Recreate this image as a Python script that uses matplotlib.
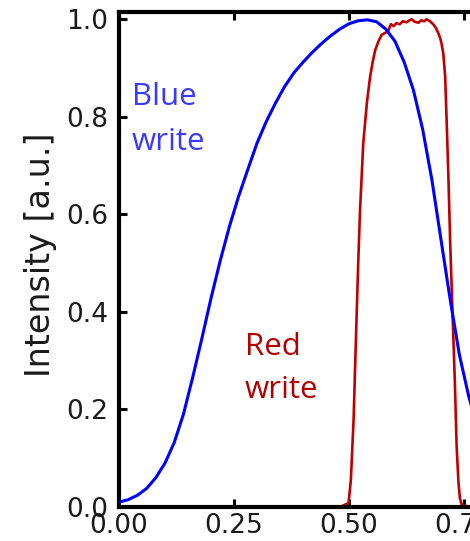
import matplotlib
matplotlib.use("Agg")
import matplotlib.pyplot as plt

# ---- data ----
blue_x = [0.00, 0.02, 0.04, 0.06, 0.08, 0.10, 0.12, 0.14, 0.16, 0.18,
          0.20, 0.22, 0.24, 0.26, 0.28, 0.30, 0.32, 0.34, 0.36, 0.38,
          0.40, 0.42, 0.44, 0.46, 0.48, 0.50, 0.52, 0.54, 0.56, 0.58,
          0.60, 0.62, 0.64, 0.66, 0.68, 0.70, 0.72, 0.74, 0.76, 0.78,
          0.80]
blue_y = [0.010, 0.015, 0.024, 0.038, 0.060, 0.090, 0.132, 0.190, 0.265, 0.345,
          0.428, 0.505, 0.575, 0.637, 0.692, 0.746, 0.790, 0.828, 0.862, 0.890,
          0.912, 0.932, 0.950, 0.966, 0.980, 0.991, 0.997, 0.999, 0.995, 0.980,
          0.955, 0.912, 0.855, 0.775, 0.672, 0.548, 0.425, 0.312, 0.228, 0.160,
          0.110]

red_x = [0.000, 0.100, 0.200, 0.300, 0.400, 0.480, 0.499, 0.504, 0.510, 0.515,
         0.520, 0.524, 0.531, 0.539, 0.546, 0.552, 0.557, 0.564, 0.571, 0.578,
         0.585, 0.591, 0.597, 0.603, 0.610, 0.617, 0.625, 0.630, 0.636, 0.643,
         0.651, 0.657, 0.663, 0.669, 0.676, 0.683, 0.689, 0.694, 0.698, 0.701,
         0.705, 0.709, 0.712, 0.716, 0.720, 0.727, 0.730, 0.734, 0.738, 0.741,
         0.745, 0.760, 0.800, 0.900, 1.000]
red_y = [0.000, 0.000, 0.000, 0.000, 0.000, 0.000, 0.008, 0.055, 0.180, 0.343,
         0.500, 0.609, 0.746, 0.830, 0.883, 0.915, 0.937, 0.955, 0.968, 0.972,
         0.975, 0.990, 0.986, 0.992, 0.990, 0.996, 0.994, 0.997, 1.000, 0.995,
         0.993, 0.998, 0.996, 1.000, 0.996, 0.990, 0.982, 0.972, 0.962, 0.951,
         0.930, 0.883, 0.800, 0.680, 0.540, 0.343, 0.260, 0.124, 0.050, 0.018,
         0.005, 0.000, 0.000, 0.000, 0.000]

x_ticks = [0.00, 0.25, 0.50, 0.75, 1.00]
x_ticklabels = ["0.00", "0.25", "0.50", "0.75", "1.00"]
y_ticks = [0.0, 0.2, 0.4, 0.6, 0.8, 1.0]
y_ticklabels = ["0.0", "0.2", "0.4", "0.6", "0.8", "1.0"]

# ---- figure ----
W, H = 470, 541
fig = plt.figure(figsize=(W / 100, H / 100), dpi=100)
ax = fig.add_axes([119 / W, (H - 507) / H, 460 / W, 495 / H])

ax.plot(blue_x, blue_y, color="#0000ff", lw=2.2, zorder=3)
ax.plot(red_x, red_y, color="#c00000", lw=1.9, zorder=2)

ax.set_xlim(0, 1.0)
ax.set_ylim(0, 1.015)
ax.set_xticks(x_ticks)
ax.set_xticklabels(x_ticklabels)
ax.set_yticks(y_ticks)
ax.set_yticklabels(y_ticklabels)

for s in ax.spines.values():
    s.set_linewidth(3)
ax.tick_params(axis="both", which="major", direction="in", length=6, width=2.2,
               labelsize=19, top=True, right=True, color="black",
               labelcolor="#1a1a1a")
ax.tick_params(axis="y", pad=7.5)
ax.tick_params(axis="x", pad=4.5)

ax.set_ylabel("Intensity [a.u.]", fontsize=24, color="#1a1a1a")
ax.yaxis.set_label_coords(-0.135, 0.51)

tf = ["Open Sans", "DejaVu Sans"]
ax.text(0.028, 0.825, "Blue", color="#3a3aff", fontsize=22.5, family=tf, va="baseline", ha="left")
ax.text(0.028, 0.732, "write", color="#3a3aff", fontsize=22.5, family=tf, va="baseline", ha="left")
ax.text(0.274, 0.312, "Red", color="#b00000", fontsize=22.5, family=tf, va="baseline", ha="left")
ax.text(0.274, 0.224, "write", color="#b00000", fontsize=22.5, family=tf, va="baseline", ha="left")

fig.savefig("out.png", dpi=100)
